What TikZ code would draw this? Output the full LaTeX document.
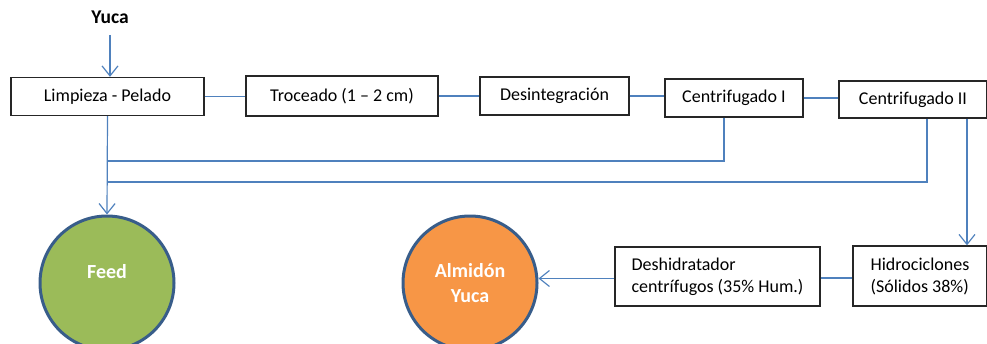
\documentclass[tikz,border=0pt]{standalone}
\usepackage{fontspec}
\setmainfont{Carlito}
\usetikzlibrary{arrows.meta}
\definecolor{linkblue}{HTML}{4F81BD}
\definecolor{rimblue}{HTML}{385D8A}
\definecolor{feedgreen}{HTML}{9BBB59}
\definecolor{starchorange}{HTML}{F79646}
\tikzset{
  procbox/.style={draw=black!85, line width=1.3pt, inner sep=0pt, minimum height=38pt},
  link/.style={draw=linkblue, line width=1.2pt},
  flow/.style={link, -{Straight Barb[length=10pt,width=16pt]}},
  prodtext/.style={text=white, font=\bfseries\fontsize{20}{25}\selectfont, align=center},
  product/.style={circle, draw=rimblue, line width=3pt, minimum size=134pt, prodtext}
}
\begin{document}
\begin{tikzpicture}[x=1pt, y=-1pt, font=\fontsize{18}{22}\selectfont]
\useasboundingbox (0,0) rectangle (987,343);

\node[font=\bfseries\fontsize{19.5}{22}\selectfont] (yuca) at (110,17) {Yuca};

\node[procbox, minimum width=193pt] (limp) at (107.5,96.5) {Limpieza - Pelado};
\node[procbox, minimum width=192pt, minimum height=40pt] (troc) at (342,96) {Troceado (1 -- 2 cm)};
\node[procbox, minimum width=149pt] (desi) at (554.5,96) {Desintegración};
\node[procbox, minimum width=138pt] (cen1) at (734,98) {Centrifugado I};
\node[procbox, minimum width=148pt, minimum height=37pt] (cen2) at (913,99.5) {Centrifugado II};

\node[procbox, minimum width=134pt, minimum height=60pt, align=left] (hidro) at (920,276) {Hidrociclones\\(Sólidos 38\%)};
\node[procbox, minimum width=205pt, minimum height=59pt, align=left] (desh) at (717.5,276.5) {Deshidratador\\centrífugos (35\% Hum.)};

\node[product, fill=feedgreen, label={[prodtext, yshift=11pt]center:Feed}] (feed) at (107,283) {};
\node[product, fill=starchorange] (almidon) at (470,283) {Almidón\\Yuca};

\coordinate (j1) at (107,161);
\coordinate (j2) at (107,182);

\draw[flow, shorten <=8pt] (yuca.south) -- (limp.north -| yuca.south);
\draw[link] (limp.east) -- (limp.east -| troc.west);
\draw[link] (troc.east) -- (troc.east -| desi.west);
\draw[link] (desi.east) -- (desi.east -| cen1.west);
\draw[link] (cen1.east) -- (cen1.east -| cen2.west);

\draw[flow] (limp.south) -- (feed.north);
\draw[link] ([xshift=-10pt]cen1.south) |- (j1);
\draw[link] ([xshift=14pt]cen2.south) |- (j2);
\draw[flow] ([xshift=54pt]cen2.south) -- ([xshift=54pt]cen2.south |- hidro.north);

\draw[link] ([yshift=-2pt]hidro.west) -- ([yshift=-2pt]hidro.west -| desh.east);
\draw[flow] ([yshift=-2pt]desh.west) -- ([yshift=-2pt]desh.west -| almidon.east);
\end{tikzpicture}
\end{document}
